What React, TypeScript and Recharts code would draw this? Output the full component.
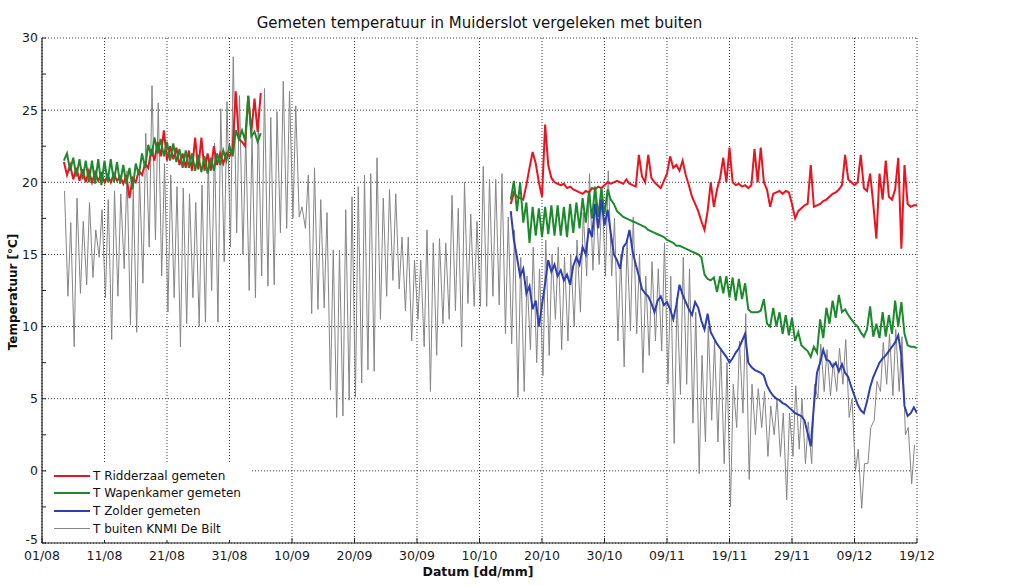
import React from 'react';
import { LineChart, Line, XAxis, YAxis, CartesianGrid } from 'recharts';

// ---------- axes ----------
const dayTicks = [0, 10, 20, 30, 40, 50, 60, 70, 80, 90, 100, 110, 120, 130, 140];
const dateLabels = ['01/08', '11/08', '21/08', '31/08', '10/09', '20/09', '30/09', '10/10', '20/10', '30/10', '09/11', '19/11', '29/11', '09/12', '19/12'];
const tempTicks = [-5, -2.5, 0, 2.5, 5, 7.5, 10, 12.5, 15, 17.5, 20, 22.5, 25, 27.5, 30];
const gridTemps = [-5, 0, 5, 10, 15, 20, 25, 30];

// ---------- series names ----------
const seriesNames = ['T Ridderzaal gemeten', 'T Wapenkamer gemeten', 'T Zolder gemeten', 'T buiten KNMI De Bilt'];
const seriesColors = ['#e8141f', '#1c8a2c', '#2f3fae', '#858585'];

// ---------- outside temperature (KNMI De Bilt): first value, then daily [min, max] from day 4 (05/08) ----------
const buitenStartDay = 3.6;
const buitenStartValue = 19.4;
const buitenFirstDay = 4;
const buitenMinMax: [number, number][] = [
  [12.1, 17.2], [8.6, 18.9], [12.3, 17.3], [12.9, 18.6], [13.4, 16.7], [14.8, 18.1], [12.0, 18.8], [9.1, 19.4], [12.1, 19.2], [14.0, 20.8],
  [10.1, 19.5], [9.6, 20.5], [13.0, 23.4], [15.5, 26.7], [16.0, 25.5], [13.5, 21.3], [11.0, 20.5], [12.0, 19.7], [8.6, 19.6], [10.2, 19.2],
  [12.0, 18.6], [10.0, 19.8], [10.3, 21.5], [12.5, 22.7], [10.3, 25.1], [14.5, 25.6], [15.5, 28.7], [16.5, 26.0], [15.0, 23.3], [12.5, 23.3],
  [12.0, 24.2], [13.5, 26.5], [12.8, 24.5], [12.9, 24.9], [16.5, 27.0], [16.8, 26.3], [17.5, 25.3], [17.6, 18.3], [16.8, 20.5], [10.9, 21.0],
  [11.2, 18.8], [11.3, 17.9], [5.6, 15.3], [3.7, 15.3], [3.8, 18.1], [4.9, 19.0], [5.1, 19.7], [6.1, 20.5], [7.0, 20.6], [6.9, 21.7],
  [10.5, 18.9], [12.1, 19.5], [13.2, 19.2], [12.6, 16.2], [11.1, 16.2], [9.0, 14.6], [10.5, 14.6], [8.6, 16.7], [5.5, 15.8], [8.0, 16.1],
  [10.2, 15.8], [10.5, 19.1], [11.1, 18.2], [8.6, 20.0], [11.6, 17.8], [11.4, 17.3], [11.4, 21.1], [11.4, 20.2], [12.1, 20.2], [11.5, 20.6],
  [9.5, 17.6], [8.8, 16.7], [5.1, 14.8], [5.5, 13.5], [8.4, 15.5], [7.5, 14.0], [6.6, 16.0], [8.0, 15.0], [10.5, 15.5], [8.4, 14.8],
  [9.0, 15.0], [10.0, 16.0], [11.0, 17.9], [13.5, 20.6], [13.9, 19.0], [14.3, 19.5], [13.5, 20.8], [13.5, 17.5], [9.0, 15.0], [7.2, 16.0],
  [9.7, 17.6], [9.5, 15.0], [6.8, 13.5], [8.0, 14.5], [9.0, 14.0], [8.3, 15.8], [6.0, 13.5], [1.9, 12.0], [5.3, 14.8], [6.0, 14.0],
  [3.3, 11.0], [-0.2, 8.0], [2.0, 10.0], [3.5, 9.0], [2.0, 8.5], [0.5, 7.5], [-2.5, 6.0], [3.0, 9.0], [4.0, 10.9], [-0.6, 6.0],
  [2.5, 5.7], [3.0, 5.5], [1.0, 4.5], [2.5, 5.0], [1.0, 4.0], [-2.0, 4.0], [1.0, 5.9], [1.5, 5.0], [0.5, 3.4], [0.5, 6.0],
  [5.0, 8.8], [5.5, 8.4], [5.2, 7.5], [5.5, 8.5], [6.0, 9.1], [3.7, 5.0], [0.0, 1.5], [-2.6, 0.5], [0.5, 3.0], [3.5, 6.2],
  [5.5, 8.9], [6.0, 9.5], [5.2, 9.8], [5.5, 9.3], [2.5, 3.0], [-0.9, 1.8],
];

// ---------- indoor series, half-day samples ----------
const summerStart = 3.5;
const ridderSummer = [
  21.4, 20.5, 21.2, 20.2, 21.0, 20.1, 20.9, 20.0, 20.8, 20.0,
  20.7, 20.1, 20.6, 20.0, 20.5, 20.0, 20.6, 20.1, 20.4, 19.9,
  20.5, 18.9, 20.3, 20.0, 20.8, 20.5, 21.3, 21.0, 22.3, 21.5,
  22.8, 21.8, 23.6, 21.5, 22.5, 21.6, 22.4, 21.2, 22.0, 21.0,
  22.2, 20.8, 23.1, 20.9, 23.1, 20.8, 22.0, 20.8, 22.5, 21.2,
  22.0, 21.3, 22.0, 21.8, 22.3, 26.3, 23.0, 22.8, 22.5, 26.0,
  23.5, 25.8, 23.5, 26.2,
];
const wapenSummer = [
  21.5, 22.0, 20.8, 21.7, 20.4, 21.6, 20.2, 21.5, 20.0, 21.5,
  19.9, 21.6, 19.8, 21.5, 20.0, 21.6, 20.0, 21.4, 19.9, 21.2,
  19.9, 21.0, 19.5, 21.3, 20.5, 22.0, 21.0, 22.6, 21.8, 23.1,
  22.0, 23.0, 21.8, 22.8, 21.5, 22.7, 21.4, 22.3, 21.0, 22.2,
  21.0, 22.0, 20.8, 21.9, 20.7, 21.8, 20.6, 21.7, 20.8, 22.0,
  21.2, 22.2, 21.5, 22.5, 21.8, 23.6, 23.0, 23.6, 22.9, 26.0,
  23.2, 23.5, 22.8, 23.4,
];

const winterStart = 75;
const ridderWinter = [
  18.5, 19.3, 19.0, 18.9, 18.8, 19.8, 21.0, 22.1, 21.3, 20.0,
  19.0, 24.0, 21.2, 20.3, 20.0, 19.9, 19.8, 19.9, 19.6, 19.7,
  19.5, 19.4, 19.3, 19.2, 19.4, 19.3, 19.6, 19.5, 19.7, 19.6,
  19.8, 20.0, 19.9, 20.0, 20.1, 20.0, 19.9, 20.2, 19.9, 19.8,
  19.7, 21.9, 20.4, 20.0, 21.9, 20.3, 20.0, 19.8, 19.6, 20.1,
  20.6, 21.8, 21.0, 21.2, 20.8, 21.5, 20.5, 19.8, 19.0, 18.5,
  18.0, 17.3, 16.7, 18.0, 20.0, 18.3, 19.5, 20.3, 21.7, 20.0,
  22.4, 20.0, 19.8, 19.9, 19.7, 19.8, 19.6, 19.8, 22.3, 20.0,
  22.4, 20.0, 19.5, 18.3, 19.2, 19.3, 19.4, 19.2, 19.4, 19.3,
  18.5, 17.5, 18.0, 18.2, 18.4, 18.5, 21.2, 18.3, 18.4, 18.5,
  18.7, 18.8, 19.0, 19.2, 19.3, 19.5, 19.8, 21.9, 20.2, 20.0,
  19.8, 20.0, 21.9, 19.6, 19.4, 20.6, 18.5, 16.1, 20.6, 18.8,
  21.5, 19.0, 18.8, 19.5, 21.7, 15.4, 21.2, 18.5, 18.3, 18.4,
  18.4,
];
const wapenWinter = [
  18.8, 20.1, 18.0, 20.0, 17.2, 18.6, 15.8, 18.3, 16.3, 18.2,
  16.2, 18.3, 16.4, 18.4, 16.3, 18.4, 16.3, 18.3, 16.2, 18.5,
  16.5, 18.6, 16.8, 18.9, 17.2, 19.3, 17.5, 19.7, 17.6, 19.6,
  17.8, 19.5, 18.8, 18.5, 18.0, 17.8, 17.6, 17.5, 17.4, 17.3,
  17.2, 17.1, 17.0, 16.9, 16.7, 16.6, 16.5, 16.4, 16.3, 16.2,
  16.0, 15.9, 15.8, 15.6, 15.6, 15.5, 15.4, 15.3, 15.2, 15.1,
  15.0, 14.8, 13.6, 13.3, 13.2, 13.4, 12.4, 13.5, 12.3, 13.5,
  12.0, 13.4, 11.8, 13.3, 11.9, 13.0, 11.2, 11.0, 11.0, 11.0,
  11.1, 11.9, 10.2, 10.0, 11.3, 10.0, 11.0, 9.5, 10.8, 9.4,
  10.6, 9.0, 9.6, 8.7, 8.5, 8.3, 7.9, 8.6, 8.2, 10.5,
  9.2, 11.3, 10.2, 11.8, 10.6, 12.2, 11.0, 11.2, 10.8, 10.5,
  10.2, 10.0, 9.6, 9.3, 9.8, 11.4, 9.3, 10.2, 9.2, 11.0,
  9.3, 10.8, 9.5, 11.8, 10.0, 11.7, 9.5, 8.7, 8.6, 8.6,
  8.5,
];
const zolderWinter = [
  18.0, 16.0, 14.8, 13.5, 14.0, 12.3, 12.8, 11.2, 11.8, 10.0,
  11.5, 13.0, 14.6, 13.8, 14.3, 13.5, 13.9, 13.2, 13.6, 12.9,
  14.2, 14.8, 14.3, 15.5, 15.0, 16.8, 16.2, 18.5, 16.8, 18.8,
  17.0, 18.1, 16.5, 15.0, 14.6, 14.0, 15.5, 15.8, 16.7, 15.2,
  14.3, 13.5, 12.6, 12.3, 12.1, 11.6, 11.0, 11.8, 12.1, 11.5,
  11.7, 11.2, 10.5, 11.5, 12.9, 12.2, 11.7, 11.2, 10.8, 11.7,
  11.3, 10.4, 9.8, 10.9, 9.6, 9.2, 8.8, 8.5, 8.2, 7.9,
  7.5, 7.8, 8.2, 8.5, 9.0, 9.5, 7.5, 7.2, 7.0, 6.9,
  6.8, 6.6, 5.9, 5.5, 5.2, 5.0, 4.9, 4.7, 4.6, 4.4,
  4.2, 4.0, 3.9, 3.8, 3.5, 2.6, 1.7, 4.5, 6.8, 7.5,
  8.4, 7.7, 7.6, 7.2, 7.5, 6.9, 7.4, 6.8, 6.5, 5.8,
  5.2, 4.6, 4.2, 4.0, 4.8, 5.8, 6.5, 7.0, 7.5, 7.8,
  8.0, 8.3, 8.6, 8.9, 9.4, 8.0, 4.5, 3.8, 4.0, 4.4,
  4.0,
];

type Pt = { t: number; v: number };
const halfDay = (start: number, vals: number[]): Pt[] => vals.map((v, i) => ({ t: start + i * 0.5, v }));

const buitenData: Pt[] = [
  { t: buitenStartDay, v: buitenStartValue },
  ...buitenMinMax.flatMap(([mn, mx], i) => [
    { t: buitenFirstDay + i + 0.15, v: mn },
    { t: buitenFirstDay + i + 0.6, v: mx },
  ]),
];

const FONT = "'DejaVu Sans', Verdana, sans-serif";

const W = 1024;
const H = 586;
const PLOT_LEFT = 42;
const PLOT_RIGHT = 917;
const PLOT_TOP = 38;
const PLOT_BOTTOM = 543;

function YTick(props: any) {
  const { x, y, payload } = props;
  const v = payload?.value as number;
  if (v % 5 !== 0) return null;
  const lift = v === -5 ? -3 : 0;
  return (
    <text
      x={x}
      y={y + lift}
      dy="0.35em"
      textAnchor="end"
      fill="#1a1a1a"
      fontSize={12.5}
      fontFamily={FONT}
    >
      {String(v)}
    </text>
  );
}

function LegendBox() {
  return (
    <div
      style={{
        position: 'absolute',
        left: 46,
        top: 464,
        width: 206,
        height: 76,
        background: '#fff',
        fontFamily: FONT,
        fontSize: 12,
        color: '#111',
      }}
    >
      {seriesNames.map((name, i) => (
        <div key={name} style={{ position: 'absolute', left: 8, top: 3 + i * 17.7, height: 17, display: 'flex', alignItems: 'center', whiteSpace: 'nowrap' }}>
          <div style={{ width: 36, height: i === 3 ? 1 : 2, background: seriesColors[i], marginRight: 3 }} />
          <span>{name}</span>
        </div>
      ))}
    </div>
  );
}

export default function App() {
  const lineCommon = { type: 'linear' as const, dataKey: 'v', dot: false, activeDot: false, isAnimationActive: false, legendType: 'none' as const };
  return (
    <div style={{ position: 'absolute', left: 0, top: 0, width: W, height: H, background: '#fff', overflow: 'hidden' }}>
      <LineChart
        width={W}
        height={H}
        margin={{ top: PLOT_TOP, right: W - PLOT_RIGHT, bottom: 0, left: 0 }}
      >
        <CartesianGrid
          horizontalValues={gridTemps}
          verticalValues={dayTicks}
          stroke="#3a3a3a"
          strokeDasharray="1 2"
          strokeWidth={1}
        />
        <XAxis
          dataKey="t"
          type="number"
          domain={[0, 140]}
          ticks={dayTicks}
          interval={0}
          allowDataOverflow
          height={H - PLOT_BOTTOM}
          tickSize={-5}
          tickMargin={13}
          tickFormatter={(v: number) => dateLabels[Math.round(v / 10)] ?? ''}
          tick={{ fill: '#1a1a1a', fontSize: 12.5, fontFamily: FONT }}
          axisLine={{ stroke: '#222', strokeWidth: 1.2 }}
          tickLine={{ stroke: '#222' }}
        />
        <YAxis
          type="number"
          domain={[-5, 30]}
          ticks={tempTicks}
          interval={0}
          allowDataOverflow
          width={PLOT_LEFT}
          tickSize={-4}
          tickMargin={8}
          tick={<YTick />}
          axisLine={{ stroke: '#222', strokeWidth: 1.2 }}
          tickLine={{ stroke: '#222' }}
        />
        <Line {...lineCommon} data={buitenData} stroke={seriesColors[3]} strokeWidth={1} />
        <Line {...lineCommon} data={halfDay(summerStart, ridderSummer)} stroke={seriesColors[0]} strokeWidth={2} />
        <Line {...lineCommon} data={halfDay(winterStart, ridderWinter)} stroke={seriesColors[0]} strokeWidth={2} />
        <Line {...lineCommon} data={halfDay(summerStart, wapenSummer)} stroke={seriesColors[1]} strokeWidth={2} />
        <Line {...lineCommon} data={halfDay(winterStart, wapenWinter)} stroke={seriesColors[1]} strokeWidth={2} />
        <Line {...lineCommon} data={halfDay(winterStart, zolderWinter)} stroke={seriesColors[2]} strokeWidth={2} />
      </LineChart>

      <LegendBox />

      <div
        style={{
          position: 'absolute',
          left: (PLOT_LEFT + PLOT_RIGHT) / 2,
          top: 23,
          transform: 'translate(-50%, -50%)',
          fontFamily: FONT,
          fontSize: 15,
          color: '#111',
          whiteSpace: 'nowrap',
        }}
      >
        Gemeten temperatuur in Muiderslot vergeleken met buiten
      </div>

      <div
        style={{
          position: 'absolute',
          left: 478,
          top: 571,
          transform: 'translate(-50%, -50%)',
          fontFamily: FONT,
          fontSize: 12.5,
          fontWeight: 'bold',
          color: '#111',
          whiteSpace: 'nowrap',
        }}
      >
        Datum [dd/mm]
      </div>

      <div
        style={{
          position: 'absolute',
          left: 13,
          top: 292,
          transform: 'translate(-50%, -50%) rotate(-90deg)',
          fontFamily: FONT,
          fontSize: 12,
          fontWeight: 'bold',
          color: '#111',
          whiteSpace: 'nowrap',
        }}
      >
        Temperatuur [°C]
      </div>
    </div>
  );
}
